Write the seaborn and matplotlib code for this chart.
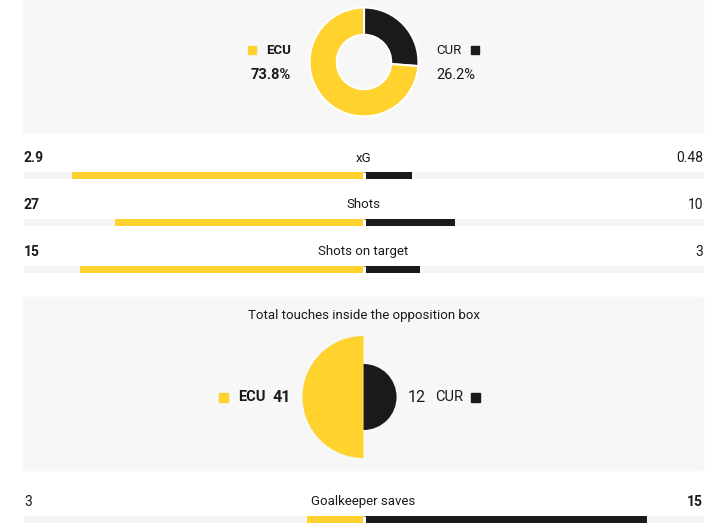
import numpy as np
import pandas as pd
import matplotlib
matplotlib.use('Agg')
from matplotlib import pyplot as plt
from matplotlib.patches import Rectangle
import seaborn as sns

sns.set_theme(style='white')
plt.rcParams['font.family'] = ['Roboto', 'DejaVu Sans']

# data
teams = ['ECU', 'CUR']
possession = [73.8, 26.2]
stats = ['xG', 'Shots', 'Shots on target']
ecu_vals = [2.9, 27, 15]
cur_vals = [0.48, 10, 3]
ecu_labels = ['2.9', '27', '15']
cur_labels = ['0.48', '10', '3']
touches_title = 'Total touches inside the opposition box'
touches = [41, 12]
gk_stat = ['Goalkeeper saves']
gk_ecu = [3]
gk_cur = [15]

yellow = '#ffd22e'
black = '#1a1a1a'
panel = '#f7f7f7'
track = '#f5f5f5'
W, H = 720, 532


def box(x0, y0, w, h):
    # pixel box (top-left origin) -> figure fraction
    return [x0 / W, 1 - (y0 + h) / H, w / W, h / H]


fig = plt.figure(figsize=(7.2, 5.32), dpi=100)
bg = fig.add_axes([0, 0, 1, 1])
bg.set_xlim(0, W)
bg.set_ylim(H, 0)
bg.axis('off')
bg.add_patch(Rectangle((23, 0), 680, 132, color=panel, zorder=0))
bg.add_patch(Rectangle((23, 297), 680, 173, color=panel, zorder=0))

fs = 9.5

# possession donut
ax1 = fig.add_axes(box(309, 7, 110, 110))
ax1.pie(possession[::-1], colors=[black, yellow], startangle=90, counterclock=False,
        radius=1, wedgeprops=dict(width=0.5, edgecolor='white', linewidth=1.5))
ax1.set_xlim(-1.01, 1.01)
ax1.set_ylim(-1.01, 1.01)
ax1.set_aspect('equal')
ax1.axis('off')

bg.add_patch(Rectangle((248, 46), 8, 8, color=yellow))
bg.text(266, 50, teams[0], fontsize=fs, fontweight='bold', va='center', ha='left', color=black)
bg.text(291, 75, f'{possession[0]}%', fontsize=fs + 1, fontweight='bold', va='center', ha='right', color=black)
bg.add_patch(Rectangle((471, 46), 8, 8, color=black))
bg.text(436, 50, teams[1], fontsize=fs, va='center', ha='left', color=black)
bg.text(436, 75, f'{possession[1]}%', fontsize=fs + 1, va='center', ha='left', color=black)


def stat_bars(ax, names, left, right, rowh):
    left = np.array(left, dtype=float)
    right = np.array(right, dtype=float)
    tot = left + right
    df = pd.DataFrame({'stat': names, 'ecu': -left / tot, 'cur': right / tot,
                       'lo': -1.0, 'hi': 1.0})
    for col, c in [('lo', track), ('hi', track), ('ecu', yellow), ('cur', black)]:
        sns.barplot(data=df, x=col, y='stat', orient='h', color=c, saturation=1,
                    width=0.15, linewidth=0, ax=ax)
    pos = np.arange(len(names))
    ax.vlines(np.zeros(len(names)), pos - 0.08, pos + 0.08, color='white', lw=2.2)
    ax.set_xlim(-1, 1)
    ax.set_ylim(len(names) - 1 + rowh, -rowh)
    ax.set_facecolor('none')
    ax.axis('off')


ax2 = fig.add_axes(box(23.5, 152, 680, 141))
stat_bars(ax2, stats, ecu_vals, cur_vals, 0.5)
for i, s in enumerate(stats):
    y = 158 + 47 * i
    big_l = ecu_vals[i] >= cur_vals[i]
    bg.text(24, y, ecu_labels[i], fontsize=fs + 0.5, fontweight='bold' if big_l else 'normal',
            va='center', ha='left', color=black)
    bg.text(363.5, y, s, fontsize=fs, va='center', ha='center', color=black)
    bg.text(703, y, cur_labels[i], fontsize=fs + 0.5, fontweight='normal' if big_l else 'bold',
            va='center', ha='right', color=black)

# touches in box, semicircles sized by area
ax3 = fig.add_axes(box(363.5 - 64, 397 - 64, 128, 128))
k = 61 / np.sqrt(max(touches))
r_ecu = k * np.sqrt(touches[0])
r_cur = k * np.sqrt(touches[1])
ax3.pie([1, 1], colors=[yellow, 'none'], startangle=90, counterclock=True,
        radius=r_ecu, explode=[1.5 / r_ecu, 0], wedgeprops=dict(linewidth=0))
ax3.pie([1, 1], colors=['none', black], startangle=90, counterclock=True,
        radius=r_cur, explode=[0, 1.5 / r_cur], wedgeprops=dict(linewidth=0))
ax3.set_xlim(-64, 64)
ax3.set_ylim(-64, 64)
ax3.set_aspect('equal')
ax3.axis('off')

bg.text(363.5, 316, touches_title, fontsize=fs, va='center', ha='center', color=black)
bg.add_patch(Rectangle((219, 392.5), 9, 9, color=yellow))
bg.text(238, 397, teams[0], fontsize=fs + 1, fontweight='bold', va='center', ha='left', color=black)
bg.text(291, 397, str(touches[0]), fontsize=fs + 2, fontweight='bold', va='center', ha='right', color=black)
bg.text(408, 397, str(touches[1]), fontsize=fs + 2, va='center', ha='left', color=black)
bg.text(435, 397, teams[1], fontsize=fs + 1, va='center', ha='left', color=black)
bg.add_patch(Rectangle((471, 392.5), 9, 9, color=black))

# goalkeeper saves
ax4 = fig.add_axes(box(23.5, 507.5, 680, 24))
stat_bars(ax4, gk_stat, gk_ecu, gk_cur, 24 / 47 / 2)
bg.text(24, 502, str(gk_ecu[0]), fontsize=fs + 0.5, va='center', ha='left', color=black)
bg.text(363.5, 502, gk_stat[0], fontsize=fs, va='center', ha='center', color=black)
bg.text(703, 502, str(gk_cur[0]), fontsize=fs + 0.5, fontweight='bold', va='center', ha='right', color=black)

fig.savefig('out.png', dpi=100)
